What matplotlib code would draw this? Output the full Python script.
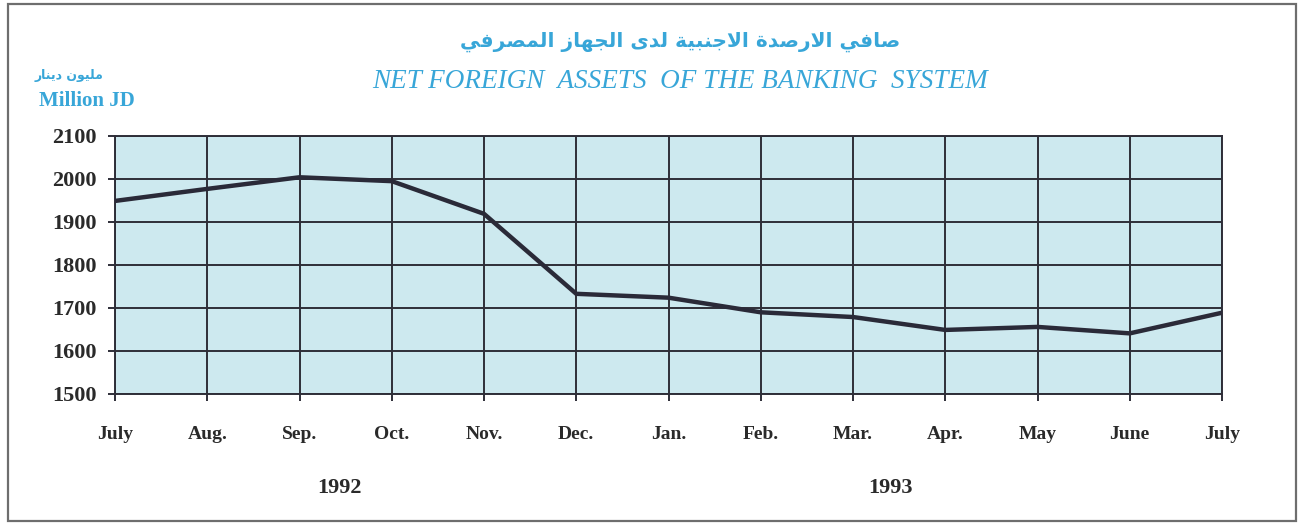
import matplotlib
matplotlib.use("Agg")
import matplotlib.pyplot as plt
from matplotlib.patches import Rectangle

# ---------------- data ----------------
months = ["July", "Aug.", "Sep.", "Oct.", "Nov.", "Dec.", "Jan.",
          "Feb.", "Mar.", "Apr.", "May", "June", "July"]
values = [1949, 1977, 2004, 1995, 1919, 1733, 1724,
          1690, 1679, 1649, 1656, 1641, 1689]
yticks = [1500, 1600, 1700, 1800, 1900, 2000, 2100]
years = ["1992", "1993"]

title_ar = "صافي الارصدة الاجنبية لدى الجهاز المصرفي"
title_en = "NET FOREIGN  ASSETS  OF THE BANKING  SYSTEM"
unit_ar = "مليون دينار"
unit_en = "Million JD"

# ------------- minimal Arabic shaping (presentation forms + RTL order) -------------
FORMS = {
    "ا": ("\uFE8D", "\uFE8E", None, None),
    "ب": ("\uFE8F", "\uFE90", "\uFE91", "\uFE92"),
    "ة": ("\uFE93", "\uFE94", None, None),
    "ت": ("\uFE95", "\uFE96", "\uFE97", "\uFE98"),
    "ج": ("\uFE9D", "\uFE9E", "\uFE9F", "\uFEA0"),
    "د": ("\uFEA9", "\uFEAA", None, None),
    "ر": ("\uFEAD", "\uFEAE", None, None),
    "ز": ("\uFEAF", "\uFEB0", None, None),
    "ص": ("\uFEB9", "\uFEBA", "\uFEBB", "\uFEBC"),
    "ف": ("\uFED1", "\uFED2", "\uFED3", "\uFED4"),
    "ل": ("\uFEDD", "\uFEDE", "\uFEDF", "\uFEE0"),
    "م": ("\uFEE1", "\uFEE2", "\uFEE3", "\uFEE4"),
    "ن": ("\uFEE5", "\uFEE6", "\uFEE7", "\uFEE8"),
    "ه": ("\uFEE9", "\uFEEA", "\uFEEB", "\uFEEC"),
    "و": ("\uFEED", "\uFEEE", None, None),
    "ى": ("\uFEEF", "\uFEF0", None, None),
    "ي": ("\uFEF1", "\uFEF2", "\uFEF3", "\uFEF4"),
}


def dual(c):
    return c in FORMS and FORMS[c][2] is not None


def shape(text):
    out = []
    i = 0
    n = len(text)
    while i < n:
        c = text[i]
        if c not in FORMS:
            out.append(c)
            i += 1
            continue
        prev = text[i - 1] if i > 0 else " "
        join_prev = dual(prev)
        if c == "ل" and i + 1 < n and text[i + 1] == "ا":
            out.append("\uFEFC" if join_prev else "\uFEFB")
            i += 2
            continue
        nxt = text[i + 1] if i + 1 < n else " "
        join_next = dual(c) and nxt in FORMS
        iso, fin, ini, med = FORMS[c]
        if join_prev and join_next:
            g = med
        elif join_prev:
            g = fin
        elif join_next:
            g = ini
        else:
            g = iso
        out.append(g)
        i += 1
    return "".join(reversed(out))


# ---------------- figure ----------------
W, H = 1304, 525
fig = plt.figure(figsize=(W / 100, H / 100), dpi=100)
fig.patch.set_facecolor("white")

fig.patches.append(Rectangle((8 / W, 4 / H), (1296 - 8) / W, (521 - 4) / H,
                             transform=fig.transFigure, fill=False,
                             edgecolor="#6e6e6e", linewidth=1.6))

ax = fig.add_axes([115 / W, 1 - 394 / H, (1222 - 115) / W, (394 - 136) / H])
ax.set_facecolor("#cde9ef")

x = list(range(len(months)))
ax.plot(x, values, color="#2a2a38", linewidth=3.2, solid_joinstyle="miter", zorder=3)

ax.set_xlim(0, len(months) - 1)
ax.set_ylim(yticks[0], yticks[-1])
ax.set_xticks(x)
ax.set_xticklabels(months)
ax.set_yticks(yticks)
ax.set_yticklabels([str(v) for v in yticks])

ax.grid(True, color="#2e2e38", linewidth=1.4)
ax.set_axisbelow(False)
for s in ax.spines.values():
    s.set_color("#2e2e38")
    s.set_linewidth(1.4)

ax.tick_params(axis="x", length=5, width=1.4, color="#2e2e38", pad=18,
               labelsize=14)
ax.tick_params(axis="y", length=5, width=1.4, color="#2e2e38", pad=8,
               labelsize=16)
for lab in ax.get_xticklabels() + ax.get_yticklabels():
    lab.set_fontfamily("Liberation Serif")
    lab.set_fontweight("bold")
    lab.set_color("#2a2a2a")

# year labels sit roughly under Sep./Oct. (1992) and Mar./Apr. (1993)
for yr, p in zip(years, [2.43, 8.41]):
    ax.text(p, -0.365, yr, transform=ax.get_xaxis_transform(), ha="center",
            va="center", fontsize=16, fontweight="bold",
            family="Liberation Serif", color="#2a2a2a")

blue = "#38a6d8"
fig.text(680 / W, 1 - 42 / H, shape(title_ar), ha="center", va="center",
         fontsize=14.5, fontweight="bold", family=["DejaVu Sans"], color=blue)
fig.text(680 / W, 1 - 82 / H, title_en, ha="center", va="center",
         fontsize=19.5, style="italic", family="Liberation Serif", color=blue)
fig.text(69 / W, 1 - 76 / H, shape(unit_ar), ha="center", va="center",
         fontsize=9, fontweight="bold", family=["DejaVu Sans"], color=blue)
fig.text(87 / W, 1 - 101 / H, unit_en, ha="center", va="center",
         fontsize=15, fontweight="bold", family="Liberation Serif", color=blue)

fig.savefig("out.png", dpi=100)
